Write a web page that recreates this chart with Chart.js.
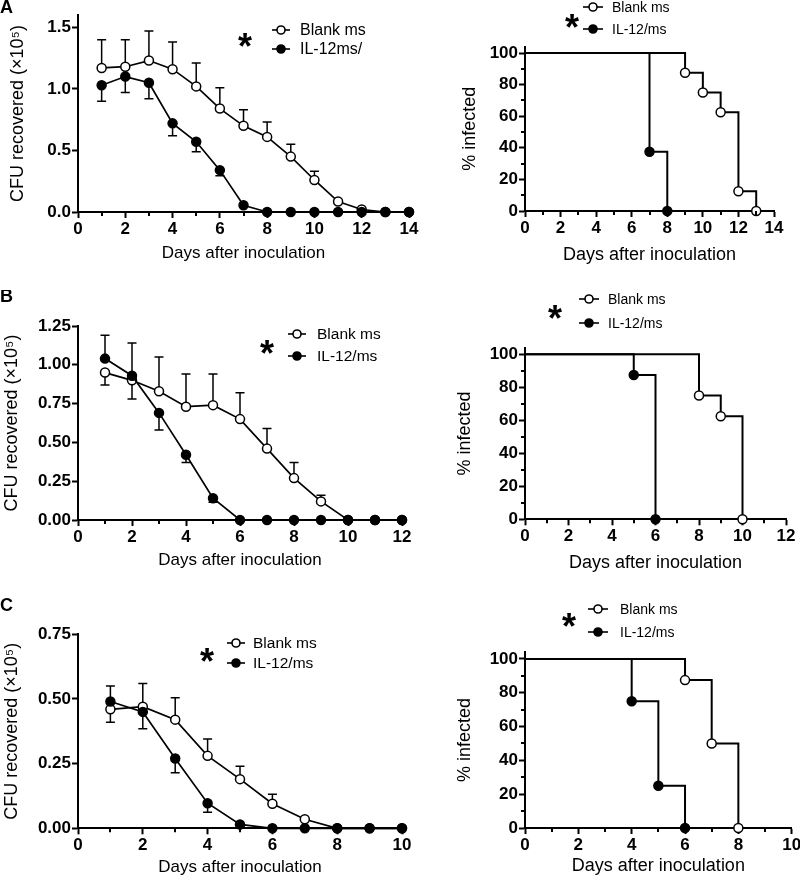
<!DOCTYPE html>
<html><head><meta charset="utf-8">
<script src="https://cdn.jsdelivr.net/npm/chart.js@4.4.1/dist/chart.umd.min.js"></script>
<style>
html,body{margin:0;padding:0;background:#fff;overflow:hidden;}
#wrap{position:relative;width:800px;height:885px;overflow:hidden;background:#fff;}
canvas{position:absolute;}
</style></head><body><div id="wrap">
<canvas id="cA1"></canvas><canvas id="cA2"></canvas>
<canvas id="cB1"></canvas><canvas id="cB2"></canvas>
<canvas id="cC1"></canvas><canvas id="cC2"></canvas>
</div>
<script>
// ---------------- DATA ----------------
// Panel A: CFU (x10^5)
const cfuDaysA = [1,2,3,4,5,6,7,8,9,10,11,12,13,14];
const blankCfuA = [1.17,1.18,1.23,1.16,1.02,0.84,0.70,0.61,0.45,0.26,0.085,0.02,0,0];
const blankErrUpA = [0.23,0.22,0.24,0.22,0.19,0.17,0.13,0.12,0.10,0.07,0,0,0,0];
const blankErrDownA = [0,0,0,0,0,0,0,0,0,0,0,0,0,0];
const il12CfuA = [1.03,1.10,1.05,0.72,0.57,0.34,0.055,0,0,0,0,0,0,0];
const il12ErrUpA = [0,0,0,0,0,0,0,0,0,0,0,0,0,0];
const il12ErrDownA = [0.13,0.13,0.13,0.10,0.08,0.045,0,0,0,0,0,0,0,0];
// Panel B
const cfuDaysB = [1,2,3,4,5,6,7,8,9,10,11,12];
const blankCfuB = [0.95,0.90,0.83,0.73,0.74,0.65,0.46,0.27,0.12,0,0,0];
const blankErrUpB = [0,0,0.22,0.21,0.20,0.17,0.13,0.10,0.04,0,0,0];
const blankErrDownB = [0.08,0.12,0,0,0,0,0,0,0,0,0,0];
const il12CfuB = [1.04,0.93,0.69,0.42,0.14,0,0,0,0,0,0,0];
const il12ErrUpB = [0.15,0.21,0,0,0,0,0,0,0,0,0,0];
const il12ErrDownB = [0,0,0.11,0.05,0.025,0,0,0,0,0,0,0];
// Panel C
const cfuDaysC = [1,2,3,4,5,6,7,8,9,10];
const blankCfuC = [0.46,0.47,0.42,0.28,0.19,0.095,0.035,0,0,0];
const blankErrUpC = [0,0.09,0.085,0.065,0.05,0.037,0,0,0,0];
const blankErrDownC = [0.05,0,0,0,0,0,0,0,0,0];
const il12CfuC = [0.49,0.45,0.27,0.097,0.015,0,0,0,0,0];
const il12ErrUpC = [0.06,0,0,0,0,0,0,0,0,0];
const il12ErrDownC = [0,0.065,0.055,0.035,0,0,0,0,0,0];

// Survival (% infected), step points
const blankSurvDaysA = [0,9,10,11,12,13];
const blankSurvA = [100,87.5,75,62.5,12.5,0];
const il12SurvDaysA = [0,7,8];
const il12SurvA = [100,37.5,0];
const blankSurvDaysB = [0,8,9,10];
const blankSurvB = [100,75,62.5,0];
const il12SurvDaysB = [0,5,6];
const il12SurvB = [100,87.5,0];
const blankSurvDaysC = [0,6,7,8];
const blankSurvC = [100,87.5,50,0];
const il12SurvDaysC = [0,4,5,6];
const il12SurvC = [100,75,25,0];

// Tick labels
const xTicksA = [0,2,4,6,8,10,12,14];
const xMinorA = [1,3,5,7,9,11,13];
const xTicksB = [0,2,4,6,8,10,12];
const xMinorB = [1,3,5,7,9,11];
const xTicksC = [0,2,4,6,8,10];
const xMinorC = [1,3,5,7,9];
const yTicksCfuA = [0,0.5,1.0,1.5];
const yTicksCfuB = [0,0.25,0.5,0.75,1.0,1.25];
const yTicksCfuC = [0,0.25,0.5,0.75];
const ySurvTicks = [0,20,40,60,80,100];
const ySurvMinor = [10,30,50,70,90];

const seriesNames = ['Blank ms','IL-12/ms'];
const seriesNamesA = ['Blank ms','IL-12ms/'];
const panelLetters = ['A','B','C'];

// ---------------- DRAWING ----------------
const FONT = '"Liberation Sans", Arial, Helvetica, sans-serif';

const extras = {
  id: 'extras',
  beforeDatasetsDraw(chart, args, o) {
    const ctx = chart.ctx, xs = chart.scales.x, ys = chart.scales.y;
    ctx.save();
    ctx.strokeStyle = '#000'; ctx.lineWidth = 1.5;
    (o.errorBars || []).forEach(e => {
      e.x.forEach((xv, i) => {
        [[e.up, 1], [e.down, -1]].forEach(([arr, s]) => {
          const d = arr[i]; if (!d) return;
          const px = xs.getPixelForValue(xv);
          const p0 = ys.getPixelForValue(e.y[i]);
          const p1 = ys.getPixelForValue(e.y[i] + s * d);
          ctx.beginPath();
          ctx.moveTo(px, p0); ctx.lineTo(px, p1);
          ctx.moveTo(px - 4.5, p1); ctx.lineTo(px + 4.5, p1);
          ctx.stroke();
        });
      });
    });
    ctx.restore();
  },
  afterDraw(chart, args, o) {
    const ctx = chart.ctx, xs = chart.scales.x, ys = chart.scales.y;
    const ox = o.ox, oy = o.oy;
    ctx.save();
    ctx.strokeStyle = '#000'; ctx.fillStyle = '#000'; ctx.lineWidth = 2;
    // minor ticks
    (o.minorX || []).forEach(v => {
      const px = Math.round(xs.getPixelForValue(v));
      ctx.beginPath(); ctx.moveTo(px, ys.bottom); ctx.lineTo(px, ys.bottom + 4); ctx.stroke();
    });
    (o.minorY || []).forEach(v => {
      const py = Math.round(ys.getPixelForValue(v));
      ctx.beginPath(); ctx.moveTo(xs.left, py); ctx.lineTo(xs.left - 4, py); ctx.stroke();
    });
    // legend
    const L = o.legend;
    if (L) {
      L.labels.forEach((lab, i) => {
        const y = L.rows[i] - oy, mx = L.markerX - ox;
        ctx.lineWidth = 1.6;
        ctx.beginPath(); ctx.moveTo(mx - L.half, y); ctx.lineTo(mx + L.half, y); ctx.stroke();
        ctx.beginPath(); ctx.arc(mx, y, L.r, 0, Math.PI * 2);
        ctx.fillStyle = i === 0 ? '#fff' : '#000';
        ctx.fill(); ctx.stroke();
        ctx.fillStyle = '#000';
        ctx.font = L.size + 'px ' + FONT;
        ctx.textBaseline = 'middle'; ctx.textAlign = 'left';
        ctx.fillText(lab, L.textX - ox, y + 1);
      });
    }
    // star
    if (o.star) {
      ctx.font = 'bold ' + o.star.size + 'px ' + FONT;
      ctx.textAlign = 'center'; ctx.textBaseline = 'alphabetic';
      const m = ctx.measureText('*');
      const cy = o.star.y - oy + (m.actualBoundingBoxAscent - m.actualBoundingBoxDescent) / 2;
      ctx.fillText('*', o.star.x - ox, cy);
    }
    // panel letter
    if (o.letter) {
      ctx.font = 'bold 18px ' + FONT;
      ctx.textAlign = 'left'; ctx.textBaseline = 'middle';
      ctx.fillText(o.letter.text, o.letter.x - ox, o.letter.y - oy);
    }
    ctx.restore();
  }
};

function pts(xs, ys) { return xs.map((x, i) => ({ x: x, y: ys[i] })); }

function build(spec) {
  const cv = document.getElementById(spec.id);
  cv.width = spec.w; cv.height = spec.h;
  cv.style.left = spec.left + 'px'; cv.style.top = spec.top + 'px';
  const tickFont = { family: FONT, size: 17, weight: 'bold' };
  const cfg = {
    type: 'line',
    data: { datasets: spec.datasets },
    options: {
      responsive: false, animation: false, devicePixelRatio: 1,
      layout: { padding: { left: 0, top: spec.padTop, right: spec.padRight, bottom: 0 } },
      plugins: {
        legend: { display: false }, tooltip: { enabled: false },
        extras: spec.extras
      },
      scales: {
        x: {
          type: 'linear', min: spec.xMin, max: spec.xMax,
          afterBuildTicks: s => { s.ticks = spec.xTicks.map(v => ({ value: v })); },
          afterFit: s => { s.height = spec.xH; },
          ticks: { autoSkip: false, maxRotation: 0, minRotation: 0, padding: 1, color: '#000', font: tickFont, callback: v => String(v) },
          grid: { display: true, drawOnChartArea: false, drawTicks: true, tickLength: 6, tickColor: '#000', tickWidth: 2 },
          border: { display: true, color: '#000', width: 2 },
          title: { display: true, text: 'Days after inoculation', color: '#000', font: { family: FONT, size: spec.xTitleSize }, padding: { top: 0, bottom: spec.xTitlePad } }
        },
        y: {
          type: 'linear', min: 0, max: spec.yMax,
          afterBuildTicks: s => { s.ticks = spec.yTicks.map(v => ({ value: v })); },
          afterFit: s => { s.width = spec.yW; },
          ticks: { autoSkip: false, padding: 1, color: '#000', font: tickFont, callback: v => spec.yDec >= 0 ? Number(v).toFixed(spec.yDec) : String(v) },
          grid: { display: true, drawOnChartArea: false, drawTicks: true, tickLength: 6, tickColor: '#000', tickWidth: 2 },
          border: { display: true, color: '#000', width: 2 },
          title: { display: true, text: spec.yTitle, color: '#000', font: { family: FONT, size: 18 }, padding: { top: spec.yTitlePad, bottom: 0 } }
        }
      }
    },
    plugins: [extras]
  };
  return new Chart(cv, cfg);
}

function cfuSets(days, blank, il12) {
  return [
    { label: seriesNames[1], data: pts(days, il12), borderColor: '#000', borderWidth: 1.7, pointRadius: 4.5,
      pointBackgroundColor: '#000', pointBorderColor: '#000', pointBorderWidth: 1.5, tension: 0, clip: false },
    { label: seriesNames[0], data: pts(days, blank), borderColor: '#000', borderWidth: 1.7, pointRadius: 4.5,
      pointBackgroundColor: '#fff', pointBorderColor: '#000', pointBorderWidth: 1.5, tension: 0, clip: false }
  ];
}
function survSets(bd, bv, id, iv) {
  const rad = arr => arr.map((v, i) => i === 0 ? 0 : 4.5);
  return [
    { label: seriesNames[1], data: pts(id, iv), stepped: 'before', borderColor: '#000', borderWidth: 2, pointRadius: rad(id),
      pointBackgroundColor: '#000', pointBorderColor: '#000', pointBorderWidth: 1.5, clip: false },
    { label: seriesNames[0], data: pts(bd, bv), stepped: 'before', borderColor: '#000', borderWidth: 2, pointRadius: rad(bd),
      pointBackgroundColor: '#fff', pointBorderColor: '#000', pointBorderWidth: 1.5, clip: false }
  ];
}

const CFU_TITLE = 'CFU recovered (\u00d710\u2075)';

// Row A
build({ id: 'cA1', left: 0, top: 0, w: 420, h: 290, padTop: 15, padRight: 11, yW: 78, xH: 78,
  xMin: 0, xMax: 14, xTicks: xTicksA, yMax: 1.6, yTicks: yTicksCfuA, yDec: 1,
  xTitleSize: 17, xTitlePad: 26.5, yTitle: CFU_TITLE, yTitlePad: 7.7,
  datasets: cfuSets(cfuDaysA, blankCfuA, il12CfuA),
  extras: { ox: 0, oy: 0, minorX: xMinorA,
    errorBars: [{ x: cfuDaysA, y: blankCfuA, up: blankErrUpA, down: blankErrDownA },
                { x: cfuDaysA, y: il12CfuA, up: il12ErrUpA, down: il12ErrDownA }],
    legend: { labels: seriesNamesA, rows: [30, 49], markerX: 281, textX: 300, half: 9, r: 4, size: 16 },
    star: { x: 245, y: 40, size: 36 }, letter: { text: panelLetters[0], x: 0, y: 8 } } });

build({ id: 'cA2', left: 420, top: 0, w: 380, h: 290, padTop: 46.7, padRight: 26, yW: 105, xH: 79,
  xMin: 0, xMax: 14, xTicks: xTicksA, yMax: 104, yTicks: ySurvTicks, yDec: -1,
  xTitleSize: 18, xTitlePad: 24.5, yTitle: '% infected', yTitlePad: 39.2,
  datasets: survSets(blankSurvDaysA, blankSurvA, il12SurvDaysA, il12SurvA),
  extras: { ox: 420, oy: 0, minorX: xMinorA, minorY: ySurvMinor,
    legend: { labels: seriesNames, rows: [7, 29], markerX: 593, textX: 612, half: 10, r: 4, size: 14 },
    star: { x: 572, y: 21, size: 36 } } });

// Row B
build({ id: 'cB1', left: 0, top: 290, w: 420, h: 290, padTop: 36, padRight: 18, yW: 78, xH: 60,
  xMin: 0, xMax: 12, xTicks: xTicksB, yMax: 1.25, yTicks: yTicksCfuB, yDec: 2,
  xTitleSize: 17, xTitlePad: 9.5, yTitle: CFU_TITLE, yTitlePad: 1.7,
  datasets: cfuSets(cfuDaysB, blankCfuB, il12CfuB),
  extras: { ox: 0, oy: 290, minorX: xMinorB,
    errorBars: [{ x: cfuDaysB, y: blankCfuB, up: blankErrUpB, down: blankErrDownB },
                { x: cfuDaysB, y: il12CfuB, up: il12ErrUpB, down: il12ErrDownB }],
    legend: { labels: seriesNames, rows: [334, 356], markerX: 297, textX: 317, half: 9, r: 4, size: 15.5 },
    star: { x: 267, y: 347, size: 36 }, letter: { text: panelLetters[1], x: 0, y: 297 } } });

build({ id: 'cB2', left: 420, top: 290, w: 380, h: 290, padTop: 57.7, padRight: 14, yW: 105, xH: 60.7,
  xMin: 0, xMax: 12, xTicks: xTicksB, yMax: 104, yTicks: ySurvTicks, yDec: -1,
  xTitleSize: 18, xTitlePad: 5.9, yTitle: '% infected', yTitlePad: 34.7,
  datasets: survSets(blankSurvDaysB, blankSurvB, il12SurvDaysB, il12SurvB),
  extras: { ox: 420, oy: 290, minorX: xMinorB, minorY: ySurvMinor,
    legend: { labels: seriesNames, rows: [299, 323], markerX: 589, textX: 608, half: 10, r: 4, size: 14 },
    star: { x: 555, y: 312, size: 36 } } });

// Row C
build({ id: 'cC1', left: 0, top: 580, w: 420, h: 305, padTop: 54.3, padRight: 18, yW: 78, xH: 56.7,
  xMin: 0, xMax: 10, xTicks: xTicksC, yMax: 0.75, yTicks: yTicksCfuC, yDec: 2,
  xTitleSize: 17, xTitlePad: 7.8, yTitle: CFU_TITLE, yTitlePad: 1.7,
  datasets: cfuSets(cfuDaysC, blankCfuC, il12CfuC),
  extras: { ox: 0, oy: 580, minorX: xMinorC,
    errorBars: [{ x: cfuDaysC, y: blankCfuC, up: blankErrUpC, down: blankErrDownC },
                { x: cfuDaysC, y: il12CfuC, up: il12ErrUpC, down: il12ErrDownC }],
    legend: { labels: seriesNames, rows: [643, 663], markerX: 236, textX: 253, half: 9, r: 4, size: 15.5 },
    star: { x: 207, y: 655, size: 36 }, letter: { text: panelLetters[2], x: 0, y: 606 } } });

build({ id: 'cC2', left: 420, top: 580, w: 400, h: 305, padTop: 72.2, padRight: 28.3, yW: 105, xH: 57,
  xMin: 0, xMax: 10, xTicks: xTicksC, yMax: 104, yTicks: ySurvTicks, yDec: -1,
  xTitleSize: 18, xTitlePad: 7.9, yTitle: '% infected', yTitlePad: 34.2,
  datasets: survSets(blankSurvDaysC, blankSurvC, il12SurvDaysC, il12SurvC),
  extras: { ox: 420, oy: 580, minorX: xMinorC, minorY: ySurvMinor,
    legend: { labels: seriesNames, rows: [609, 632], markerX: 598, textX: 620, half: 10, r: 4, size: 14 },
    star: { x: 569, y: 620, size: 36 } } });
</script>
</body></html>
